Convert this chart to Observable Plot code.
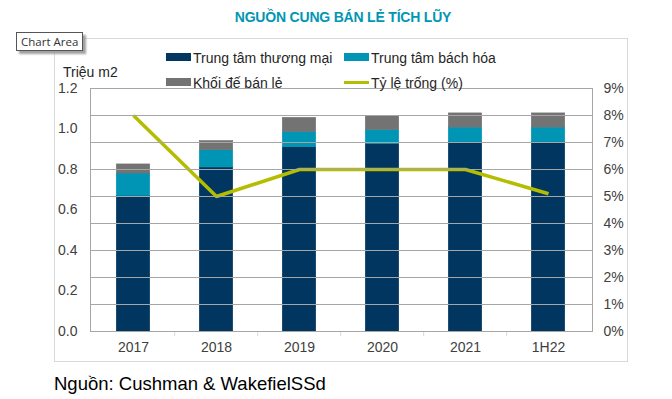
<!DOCTYPE html>
<html>
<head>
<meta charset="utf-8">
<script src="https://cdn.jsdelivr.net/npm/d3@7"></script>
<script src="https://cdn.jsdelivr.net/npm/@observablehq/plot@0.6"></script>
<style>
  html, body { margin: 0; padding: 0; background: #fff; }
  #wrap { position: relative; width: 672px; height: 399px; font-family: "Liberation Sans", Arial, sans-serif; overflow: hidden; }
  #wrap svg { position: absolute; left: 0; top: 0; }
  .abs { position: absolute; white-space: nowrap; }
  #frameBox { left: 54px; top: 38px; width: 572px; height: 322px; border: 1px solid #d9d9d9; }
  #title { left: 0; width: 686px; top: 9px; text-align: center; font-weight: bold; font-size: 14px; color: #0096b4; letter-spacing: -0.2px; }
  #tip { left: 16px; top: 32px; height: 17px; padding: 0 4px; border: 1px solid #555; background: #fff; font-family: "Open Sans", sans-serif; font-size: 11.5px; line-height: 17px; color: #333; box-shadow: 3px 3px 2px #a0a0a0; }
  .leg { font-size: 14px; color: #262626; line-height: 16px; }
  .sw { display: inline-block; width: 25px; height: 8px; vertical-align: 2px; margin-right: 2px; }
  .ln { display: inline-block; width: 25px; height: 3px; vertical-align: 4px; margin-right: 2px; }
  #ylab { left: 63px; top: 64px; font-size: 14px; color: #262626; }
  #src { left: 54px; top: 373px; font-size: 18.5px; color: #000; }
</style>
</head>
<body>
<div id="wrap"></div>
<script>
const years = ["2017", "2018", "2019", "2020", "2021", "1H22"];
const seriesNames = ["Trung tâm thương mại", "Trung tâm bách hóa", "Khối đế bán lẻ"];
const seriesColors = ["#00365f", "#0095b4", "#737373"];
const trungTamThuongMai = [0.67, 0.81, 0.91, 0.925, 0.935, 0.935];
const trungTamBachHoa = [0.11, 0.085, 0.075, 0.07, 0.072, 0.072];
const khoiDeBanLe = [0.045, 0.045, 0.07, 0.07, 0.07, 0.07];
const tyLeTrong = [8, 5, 6, 6, 6, 5.1];
const lineName = "Tỷ lệ trống (%)";
const lineColor = "#b5bd00";
const leftTicks = [0, 0.2, 0.4, 0.6, 0.8, 1.0, 1.2];
const rightTicks = [0, 1, 2, 3, 4, 5, 6, 7, 8, 9];
const leftMax = 1.2, rightMax = 9;
const titleText = "NGUỒN CUNG BÁN LẺ TÍCH LŨY";
const yLabel = "Triệu m2";
const sourceText = "Nguồn: Cushman & WakefielSSd";

const seriesValues = [trungTamThuongMai, trungTamBachHoa, khoiDeBanLe];
const rows = [];
years.forEach((y, i) => seriesNames.forEach((s, j) => rows.push({year: y, series: s, value: seriesValues[j][i]})));
const lineRows = years.map((y, i) => ({year: y, pct: tyLeTrong[i]}));
const toLeft = p => p * leftMax / rightMax;

const W = 672, H = 399, mL = 90, mR = 80, mT = 88, mB = 68;
const step = (W - mL - mR) / years.length;

const chart = Plot.plot({
  width: W, height: H,
  marginLeft: mL, marginRight: mR, marginTop: mT, marginBottom: mB,
  style: {fontFamily: '"Liberation Sans", Arial, sans-serif', fontSize: "14px", color: "#404040", background: "transparent"},
  x: {domain: years, paddingInner: 0.59, paddingOuter: 0.295, label: null},
  y: {domain: [0, leftMax], label: null},
  color: {domain: seriesNames, range: seriesColors},
  marks: [
    Plot.barY(rows, {x: "year", y: "value", fill: "series", stroke: "series", strokeWidth: 0.6, insetLeft: 0.3, insetRight: 0.3}),
    Plot.ruleX(years.slice(1), {x: d => d, dx: -step / 2, y1: 0, y2: -0.025, stroke: "#d9d9d9"}),
    Plot.frame({anchor: "bottom", stroke: "#d9d9d9"}),
    Plot.frame({anchor: "left", stroke: "#a6a6a6"}),
    Plot.frame({anchor: "right", stroke: "#a6a6a6"}),
    Plot.line(lineRows, {x: "year", y: d => toLeft(d.pct), stroke: lineColor, strokeWidth: 3.5, strokeLinejoin: "miter", strokeLinecap: "butt"}),
    Plot.axisX({tickSize: 0, tickPadding: 11, fontSize: 14, label: null}),
    Plot.axisY({anchor: "left", ticks: leftTicks, tickFormat: d3.format(".1f"), tickSize: 0, tickPadding: 13, fontSize: 14, label: null}),
    Plot.axisY({anchor: "right", ticks: rightTicks.map(toLeft), tickFormat: v => Math.round(v * rightMax / leftMax) + "%", tickSize: 0, tickPadding: 11, fontSize: 14, label: null}),
    Plot.tickY(rightTicks.map(toLeft), {y: d => d, frameAnchor: "right", stroke: "#a6a6a6"})
  ]
});

const wrap = document.getElementById("wrap");
const box = document.createElement("div"); box.className = "abs"; box.id = "frameBox"; wrap.appendChild(box);
wrap.appendChild(chart);

function addDiv(id, cls, html, style) {
  const d = document.createElement("div");
  d.className = "abs " + (cls || "");
  if (id) d.id = id;
  d.innerHTML = html;
  if (style) Object.assign(d.style, style);
  wrap.appendChild(d);
  return d;
}
addDiv("title", "", titleText);
addDiv("tip", "", "Chart Area");
addDiv("ylab", "", yLabel);
addDiv("src", "", sourceText);
const legPos = [[166, 50], [344, 50], [166, 75]];
seriesNames.forEach((s, j) => {
  addDiv(null, "leg", `<span class="sw" style="background:${seriesColors[j]}"></span>${s}`, {left: legPos[j][0] + "px", top: legPos[j][1] + "px"});
});
addDiv(null, "leg", `<span class="ln" style="background:${lineColor}"></span>${lineName}`, {left: "344px", top: "75px"});
</script>
</body>
</html>
